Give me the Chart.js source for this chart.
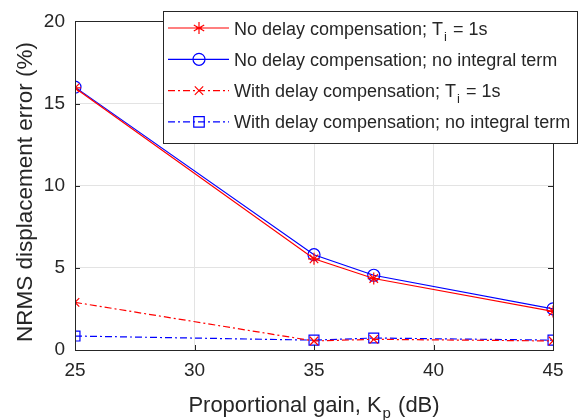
<!DOCTYPE html>
<html>
<head>
<meta charset="utf-8">
<script src="https://cdn.jsdelivr.net/npm/chart.js@4.4.0/dist/chart.umd.min.js"></script>
<style>
  html, body { margin: 0; padding: 0; background: #fff; }
  #wrap { width: 581px; height: 420px; }
</style>
</head>
<body>
<div id="wrap"><canvas id="nrmsChart" width="581" height="420"></canvas></div>
<script>
// proportional gain (dB) and NRMS error (%) per controller setup
var gainDb = [25, 35, 37.5, 45];
var noCompTi = [15.95, 5.55, 4.35, 2.35];
var noCompNoInt = [16.0, 5.8, 4.55, 2.5];
var compTi = [2.9, 0.55, 0.65, 0.55];
var compNoInt = [0.85, 0.6, 0.73, 0.6];
var xTicks = [25, 30, 35, 40, 45];
var yTicks = [0, 5, 10, 15, 20];

// legend text: [main text, subscript, trailing text]
var legendLabels = [
    ['No delay compensation; T', 'i', ' = 1s'],
    ['No delay compensation; no integral term', '', ''],
    ['With delay compensation; T', 'i', ' = 1s'],
    ['With delay compensation; no integral term', '', '']
];

var FONT = '"Liberation Sans", Arial, Helvetica, sans-serif';
var TEXT = '#262626';
var DASHDOT = [7, 3, 2, 3];

function pts(ys) {
    return gainDb.map(function(x, i) { return { x: x, y: ys[i] }; });
}

function marker(ctx, style, x, y, r, color) {
    ctx.save();
    ctx.strokeStyle = color;
    ctx.lineWidth = 1.2;
    ctx.setLineDash([]);
    ctx.beginPath();
    if (style === 'star') {
        for (var k = 0; k < 3; k++) {
            var a = Math.PI / 2 + k * Math.PI / 3;
            ctx.moveTo(x - r * Math.cos(a), y - r * Math.sin(a));
            ctx.lineTo(x + r * Math.cos(a), y + r * Math.sin(a));
        }
        ctx.moveTo(x - r * 0.5, y); ctx.lineTo(x + r * 0.5, y);
    } else if (style === 'circle') {
        ctx.arc(x, y, r, 0, Math.PI * 2);
    } else if (style === 'crossRot') {
        var d = r * 0.7;
        ctx.moveTo(x - d, y - d); ctx.lineTo(x + d, y + d);
        ctx.moveTo(x - d, y + d); ctx.lineTo(x + d, y - d);
    } else if (style === 'rect') {
        var s = r * 0.75;
        ctx.rect(x - s, y - s, 2 * s, 2 * s);
    }
    ctx.stroke();
    ctx.restore();
}

var datasets = [
    { label: legendLabels[0].join(''), data: pts(noCompTi), borderColor: '#ff0000', pointStyle: 'star', pointRadius: 6, dash: [] },
    { label: legendLabels[1].join(''), data: pts(noCompNoInt), borderColor: '#0000ff', pointStyle: 'circle', pointRadius: 6, dash: [] },
    { label: legendLabels[2].join(''), data: pts(compTi), borderColor: '#ff0000', pointStyle: 'crossRot', pointRadius: 6, dash: DASHDOT },
    { label: legendLabels[3].join(''), data: pts(compNoInt), borderColor: '#0000ff', pointStyle: 'rect', pointRadius: 7, dash: DASHDOT }
].map(function(d) {
    return {
        label: d.label,
        data: d.data,
        borderColor: d.borderColor,
        backgroundColor: 'rgba(0,0,0,0)',
        pointBorderColor: d.borderColor,
        pointBackgroundColor: 'rgba(0,0,0,0)',
        pointStyle: d.pointStyle,
        pointRadius: d.pointRadius,
        pointBorderWidth: 1.2,
        borderWidth: 1.2,
        borderDash: d.dash,
        tension: 0,
        fill: false
    };
});

// box, inward ticks, axis titles and the boxed legend
var matlabAxes = {
    id: 'matlabAxes',
    afterDraw: function(chart) {
        var ctx = chart.ctx;
        var a = chart.chartArea;
        var xs = chart.scales.x, ys = chart.scales.y;
        ctx.save();
        ctx.strokeStyle = '#262626';
        ctx.lineWidth = 1;
        ctx.setLineDash([]);
        ctx.strokeRect(Math.round(a.left) + 0.5, Math.round(a.top) + 0.5,
            Math.round(a.right - a.left), Math.round(a.bottom - a.top));
        ctx.beginPath();
        xTicks.forEach(function(t) {
            var px = Math.round(xs.getPixelForValue(t)) + 0.5;
            ctx.moveTo(px, a.bottom); ctx.lineTo(px, a.bottom - 5);
            ctx.moveTo(px, a.top); ctx.lineTo(px, a.top + 5);
        });
        yTicks.forEach(function(t) {
            var py = Math.round(ys.getPixelForValue(t)) + 0.5;
            ctx.moveTo(a.left, py); ctx.lineTo(a.left + 5, py);
            ctx.moveTo(a.right, py); ctx.lineTo(a.right - 5, py);
        });
        ctx.stroke();

        // x title with subscript p
        ctx.fillStyle = TEXT;
        ctx.textBaseline = 'alphabetic';
        var big = '22px ' + FONT, small = '15px ' + FONT;
        var p1 = 'Proportional gain, K', p2 = 'p', p3 = ' (dB)';
        ctx.font = big;
        var w1 = ctx.measureText(p1).width, w3 = ctx.measureText(p3).width;
        ctx.font = small;
        var w2 = ctx.measureText(p2).width + 2;
        var x0 = (a.left + a.right) / 2 - (w1 + w2 + w3) / 2;
        var by = 412;
        ctx.textAlign = 'left';
        ctx.font = big;
        ctx.fillText(p1, x0, by);
        ctx.font = small;
        ctx.fillText(p2, x0 + w1 + 1, by + 6);
        ctx.font = big;
        ctx.fillText(p3, x0 + w1 + w2, by);

        // y title
        ctx.save();
        ctx.translate(32, 192);
        ctx.rotate(-Math.PI / 2);
        ctx.textAlign = 'center';
        ctx.font = '22.5px ' + FONT;
        ctx.fillText('NRMS displacement error (%)', 0, 0);
        ctx.restore();

        // legend
        var lx = 163.5, ly = 11.5, lw = 414, lh = 132;
        ctx.fillStyle = '#ffffff';
        ctx.fillRect(lx, ly, lw, lh);
        ctx.strokeStyle = '#262626';
        ctx.strokeRect(lx, ly, lw, lh);
        chart.data.datasets.forEach(function(ds, i) {
            var cy = 28 + i * 31.3;
            ctx.save();
            ctx.strokeStyle = ds.borderColor;
            ctx.lineWidth = 1.2;
            ctx.setLineDash(ds.borderDash);
            ctx.beginPath();
            ctx.moveTo(168, cy); ctx.lineTo(229, cy);
            ctx.stroke();
            ctx.restore();
            marker(ctx, ds.pointStyle, 199, cy, ds.pointStyle === 'rect' ? 7 : 6, ds.borderColor);
            var parts = legendLabels[i];
            var tx = 234, bl = cy + 6.5;
            ctx.fillStyle = TEXT;
            ctx.textAlign = 'left';
            ctx.font = '18px ' + FONT;
            ctx.fillText(parts[0], tx, bl);
            tx += ctx.measureText(parts[0]).width;
            if (parts[1]) {
                ctx.font = '13px ' + FONT;
                ctx.fillText(parts[1], tx + 1, bl + 6);
                tx += ctx.measureText(parts[1]).width + 2;
                ctx.font = '18px ' + FONT;
                ctx.fillText(parts[2], tx, bl);
            }
        });
        ctx.restore();
    }
};

var canvas = document.getElementById('nrmsChart');
var chart = new Chart(canvas.getContext('2d'), {
    type: 'line',
    data: { datasets: datasets },
    options: {
        responsive: false,
        animation: false,
        layout: { padding: { top: 21, right: 28, left: 0, bottom: 0 } },
        plugins: { legend: { display: false }, tooltip: { enabled: false } },
        scales: {
            x: {
                type: 'linear',
                min: 25,
                max: 45,
                afterBuildTicks: function(scale) {
                    scale.ticks = xTicks.map(function(v) { return { value: v }; });
                },
                afterFit: function(scale) { scale.height = 70; },
                grid: { color: '#e3e3e3', drawTicks: false, lineWidth: 1 },
                border: { display: false },
                ticks: { color: TEXT, font: { family: FONT, size: 19 }, padding: 9, maxRotation: 0 }
            },
            y: {
                min: 0,
                max: 20,
                afterBuildTicks: function(scale) {
                    scale.ticks = yTicks.map(function(v) { return { value: v }; });
                },
                afterFit: function(scale) { scale.width = 75; },
                grid: { color: '#e3e3e3', drawTicks: false, lineWidth: 1 },
                border: { display: false },
                ticks: { color: TEXT, font: { family: FONT, size: 19 }, padding: 10 }
            }
        }
    },
    plugins: [matlabAxes]
});
</script>
</body>
</html>
